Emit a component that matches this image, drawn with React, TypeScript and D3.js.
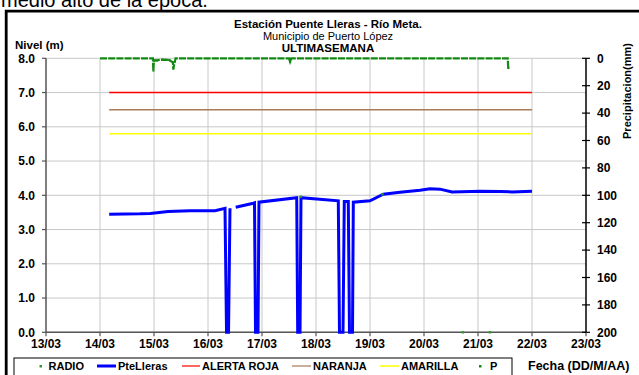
import React from "react";
import * as d3 from "d3";

// ---- data ----
const xTickDays = [13, 14, 15, 16, 17, 18, 19, 20, 21, 22, 23];
const xTickLabels = ["13/03", "14/03", "15/03", "16/03", "17/03", "18/03", "19/03", "20/03", "21/03", "22/03", "23/03"];
const nivelTicks = [0, 1, 2, 3, 4, 5, 6, 7, 8];
const precTicks = [0, 20, 40, 60, 80, 100, 120, 140, 160, 180, 200];

// PteLleras level (day of March, metres); null = missing
const levelDays = [14.17, 14.74, 14.93, 15.26, 15.67, 16.13, 16.315, 16.343, 16.38, 16.407, 16.45,
  16.513, 16.839, 16.861, 16.88, 16.926, 16.944, 17.643, 17.661, 17.704, 17.722, 18.013, 18.413,
  18.435, 18.5, 18.524, 18.598, 18.62, 18.676, 18.691, 19.0, 19.246, 19.556, 19.926, 20.111,
  20.296, 20.52, 21.04, 21.41, 21.63, 22.0];
const levelValues = [3.45, 3.46, 3.47, 3.53, 3.55, 3.55, 3.62, 0, 0, 3.62, null,
  3.65, 3.77, 3.78, 0, 0, 3.8, 3.93, 0, 0, 3.93, 3.89, 3.84,
  0, 0, 3.82, 3.82, 0, 0, 3.8, 3.84, 4.03, 4.09, 4.15, 4.19,
  4.18, 4.1, 4.12, 4.11, 4.1, 4.12];

// RADIO readings
const radioDays = [17.72, 19.23, 20.72, 21.22];
const radioValues = [3.96, 4.03, 0, 0];

// Precipitation P (mm)
const precDays = [14.0, 14.98, 14.987, 15.0, 15.05, 15.15, 15.28, 15.35, 15.357, 15.4, 17.5, 17.52, 17.54, 21.55, 21.56];
const precValues = [0, 0, 8.8, 1.5, 1.5, 1.0, 1.2, 3.0, 7.5, 0, 0, 2.5, 0, 0, 7.0];

// Threshold levels
const thresholdNames = ["ALERTA ROJA", "NARANJA", "AMARILLA"];
const thresholdValues = [7.0, 6.5, 5.8];
const thresholdStart = 14.17;
const thresholdEnd = 22.0;

const FONT = "'Liberation Sans', Arial, sans-serif";

export default function App() {
  const W = 639, H = 375;
  const x = d3.scaleLinear().domain([13, 23]).range([46, 586]);
  const y = d3.scaleLinear().domain([0, 8]).range([332.3, 58.3]);
  const yP = d3.scaleLinear().domain([0, 200]).range([58.3, 332.3]);

  const levelPts = levelDays.map((d, i) => ({ d, v: levelValues[i] }));
  const levelLine = d3.line<any>()
    .defined((p) => p.v !== null)
    .x((p) => x(p.d))
    .y((p) => y(p.v));

  const precPts = precDays.map((d, i) => ({ d, v: precValues[i] }));
  const precLine = d3.line<any>().x((p) => x(p.d)).y((p) => yP(p.v));

  const thrColors = ["#ff0000", "#a87a55", "#ffff00"];

  return (
    <div style={{ position: "fixed", left: 0, top: 0, width: W, height: H, background: "#fff" }}>
      <svg width={W} height={H} style={{ display: "block", fontFamily: FONT }}>
        <rect x={0} y={0} width={W} height={H} fill="#fff" />
        {/* caption cut at top */}
        <text x={1} y={7} fontSize={20} fill="#000">medio alto de la época.</text>
        {/* outer frame */}
        <path d={`M6.2,380 L6.2,11.2 L645,11.2`} fill="none" stroke="#000" strokeWidth={2.8} />

        {/* titles */}
        <text x={328} y={28} textAnchor="middle" fontSize={11.5} fontWeight="bold">Estación Puente Lleras - Río Meta.</text>
        <text x={328} y={40} textAnchor="middle" fontSize={11}>Municipio de Puerto López</text>
        <text x={328} y={51.5} textAnchor="middle" fontSize={11.5} fontWeight="bold">ULTIMASEMANA</text>
        <text x={15} y={49} fontSize={11.5} fontWeight="bold">Nivel (m)</text>

        {/* grid */}
        {nivelTicks.map((t) => (
          <line key={"hg" + t} x1={x(13)} x2={x(23)} y1={y(t)} y2={y(t)} stroke="#c8c8c8" strokeWidth={1} />
        ))}
        {xTickDays.slice(1, -1).map((t) => (
          <line key={"vg" + t} x1={x(t)} x2={x(t)} y1={y(0)} y2={y(8)} stroke="#c8c8c8" strokeWidth={1} />
        ))}

        {/* axes */}
        <line x1={x(13)} x2={x(13)} y1={y(0)} y2={y(8)} stroke="#555" strokeWidth={1.5} />
        <line x1={x(13)} x2={x(23)} y1={y(0)} y2={y(0)} stroke="#555" strokeWidth={1.5} />
        <line x1={x(23)} x2={x(23)} y1={yP(0)} y2={yP(200)} stroke="#000" strokeWidth={1.5} />
        {nivelTicks.map((t) => (
          <g key={"yt" + t}>
            <line x1={x(13) - 4} x2={x(13)} y1={y(t)} y2={y(t)} stroke="#555" strokeWidth={1.2} />
            <text x={35} y={y(t)} dy="0.35em" textAnchor="end" fontSize={12} fontWeight="bold">{t.toFixed(1)}</text>
          </g>
        ))}
        {xTickDays.map((t, i) => (
          <g key={"xt" + t}>
            <line x1={x(t)} x2={x(t)} y1={y(0)} y2={y(0) + 4} stroke="#555" strokeWidth={1.2} />
            <text x={x(t)} y={348} textAnchor="middle" fontSize={12} fontWeight="bold">{xTickLabels[i]}</text>
          </g>
        ))}
        {precTicks.map((t) => (
          <g key={"pt" + t}>
            <line x1={x(23) - 4} x2={x(23) + 4} y1={yP(t)} y2={yP(t)} stroke="#000" strokeWidth={1.2} />
            <text x={597} y={yP(t)} dy="0.35em" fontSize={12} fontWeight="bold">{t}</text>
          </g>
        ))}
        <text transform="translate(631,91) rotate(-90)" textAnchor="middle" fontSize={11} fontWeight="bold">Precipitacion(mm)</text>

        {/* thresholds */}
        {thresholdValues.map((v, i) => (
          <line key={thresholdNames[i]} x1={x(thresholdStart)} x2={x(thresholdEnd)} y1={y(v)} y2={y(v)}
            stroke={thrColors[i]} strokeWidth={1.5} />
        ))}

        {/* precipitation */}
        <path d={precLine(precPts) || ""} fill="none" stroke="#138a13" strokeWidth={2.2} strokeDasharray="7 1.2" />
        {precPts.filter((p) => p.v > 0).map((p, i) => (
          <rect key={"pp" + i} x={x(p.d) - 1} y={yP(p.v) - 1} width={2.2} height={2.2} fill="#138a13" />
        ))}

        {/* level */}
        <path d={levelLine(levelPts) || ""} fill="none" stroke="#0000ff" strokeWidth={3} strokeLinejoin="miter" />

        {/* radio */}
        {radioDays.map((d, i) => (
          <rect key={"r" + i} x={x(d) - 1.2} y={y(radioValues[i]) - 1.2} width={2.4} height={2.4} fill="#2e9a2e" />
        ))}

        {/* legend */}
        <rect x={14} y={358} width={498} height={22} fill="none" stroke="#000" strokeWidth={1} />
        <rect x={39.5} y={365} width={2.5} height={2.5} fill="#2e9a2e" />
        <text x={48.5} y={370} fontSize={11} fontWeight="bold">RADIO</text>
        <line x1={97} x2={116} y1={366} y2={366} stroke="#0000ff" strokeWidth={3} />
        <text x={118} y={370} fontSize={11} fontWeight="bold">PteLleras</text>
        <line x1={182} x2={200} y1={366} y2={366} stroke="#ff0000" strokeWidth={1.2} />
        <text x={202} y={370} fontSize={11} fontWeight="bold">ALERTA ROJA</text>
        <line x1={292} x2={311} y1={366} y2={366} stroke="#a87a55" strokeWidth={1.2} />
        <text x={313} y={370} fontSize={11} fontWeight="bold">NARANJA</text>
        <line x1={380} x2={399} y1={366} y2={366} stroke="#ffff00" strokeWidth={1.5} />
        <text x={401} y={370} fontSize={11} fontWeight="bold">AMARILLA</text>
        <rect x={479} y={365} width={2.5} height={2.5} fill="#138a13" />
        <text x={490} y={370} fontSize={11} fontWeight="bold">P</text>
        <text x={528} y={370} fontSize={12.5} fontWeight="bold">Fecha (DD/M/AA)</text>
      </svg>
    </div>
  );
}
